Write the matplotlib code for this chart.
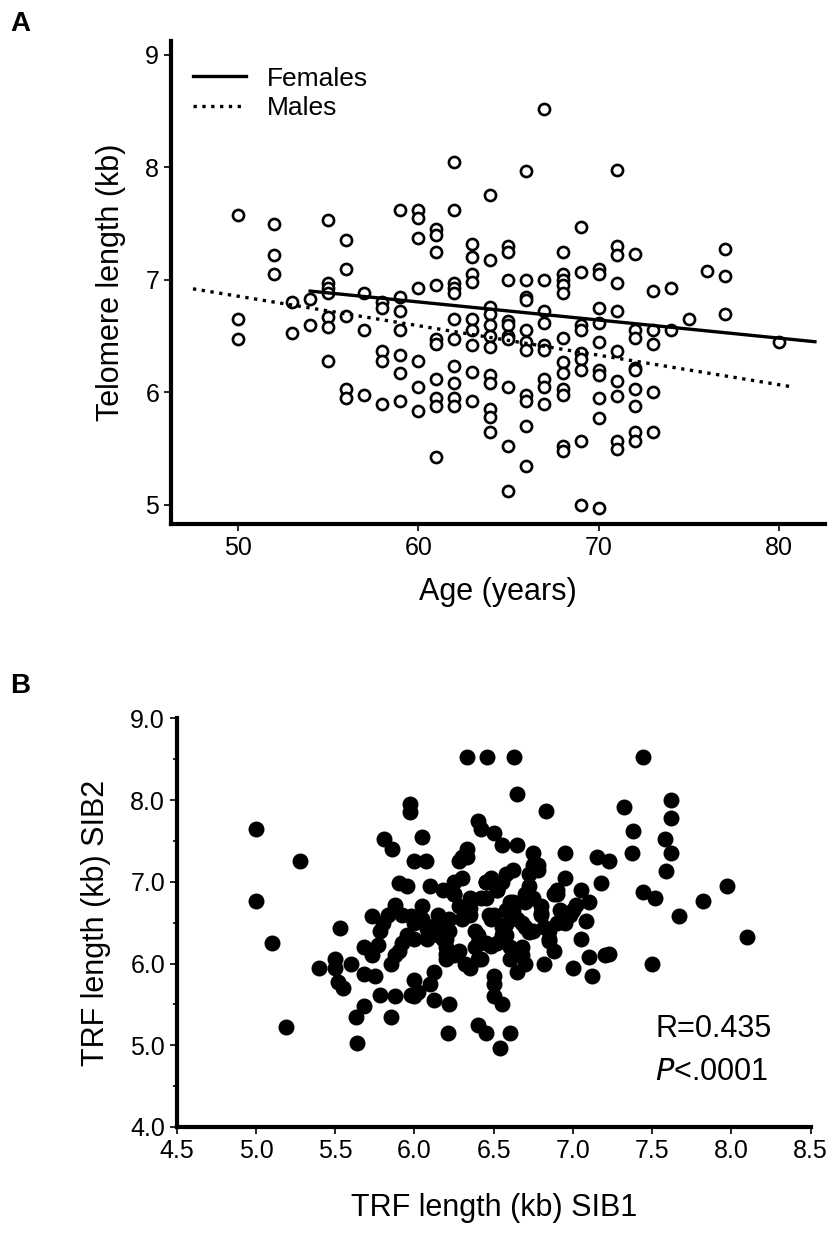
import matplotlib
matplotlib.use("Agg")
import matplotlib.pyplot as plt
from matplotlib.ticker import MultipleLocator

plt.rcParams['font.family'] = ['Liberation Sans Narrow', 'Liberation Sans', 'DejaVu Sans']

# panel A: age vs telomere length, values grouped by age
ageGroups = {
    50: [7.58, 6.65, 6.47],
    52: [7.5, 7.22, 7.05],
    53: [6.8, 6.53],
    54: [6.83, 6.6],
    55: [7.53, 6.97, 6.93, 6.88, 6.67, 6.58, 6.28],
    56: [7.35, 7.1, 6.68, 6.03, 5.95],
    57: [6.88, 6.55, 5.98],
    58: [6.8, 6.75, 6.37, 6.28, 5.9],
    59: [7.62, 6.85, 6.72, 6.55, 6.33, 6.17, 5.92],
    60: [7.62, 7.55, 7.37, 6.93, 6.28, 6.05, 5.83],
    61: [7.45, 7.4, 7.25, 6.95, 6.47, 6.43, 6.12, 5.95, 5.88, 5.43],
    62: [8.05, 7.62, 6.97, 6.93, 6.88, 6.65, 6.47, 6.23, 6.08, 5.95, 5.88],
    63: [7.32, 7.2, 7.05, 6.98, 6.65, 6.55, 6.42, 6.18, 5.92],
    64: [7.75, 7.18, 6.76, 6.7, 6.6, 6.5, 6.4, 6.15, 6.08, 5.85, 5.78, 5.65],
    65: [7.3, 7.25, 7.0, 6.63, 6.6, 6.5, 6.47, 6.05, 5.52, 5.12],
    66: [7.97, 7.0, 6.85, 6.82, 6.55, 6.45, 6.38, 5.98, 5.92, 5.7, 5.35],
    67: [8.52, 7.0, 6.72, 6.62, 6.42, 6.38, 6.12, 6.05, 5.9],
    68: [7.25, 7.05, 7.0, 6.95, 6.88, 6.48, 6.27, 6.17, 6.03, 5.98, 5.52, 5.48],
    69: [7.47, 7.07, 6.6, 6.55, 6.35, 6.3, 6.2, 5.57, 5.0],
    70: [7.1, 7.05, 6.75, 6.62, 6.45, 6.2, 6.15, 5.95, 5.77, 4.97],
    71: [7.98, 7.3, 7.22, 6.97, 6.72, 6.37, 6.1, 5.97, 5.57, 5.5],
    72: [7.23, 6.55, 6.48, 6.22, 6.2, 6.03, 5.88, 5.65, 5.57],
    73: [6.9, 6.55, 6.43, 6.0, 5.65],
    74: [6.93, 6.55],
    75: [6.65],
    76: [7.08],
    77: [7.27, 7.03, 6.7],
    80: [6.45],
}
femaleLine_x = [54, 82]
femaleLine_y = [6.9, 6.45]
maleLine_x = [47.5, 80.7]
maleLine_y = [6.92, 6.05]

# panel B: sibling pairs
sib1 = [5.0, 5.0, 5.1, 5.19, 5.28, 5.4, 5.53, 5.5, 5.52, 5.55, 5.5, 5.63, 5.64, 5.68, 5.68,
        5.73, 5.73, 5.77, 5.75, 5.78, 5.81, 5.83, 5.85, 5.86, 5.9, 5.88, 5.92, 5.97, 5.97, 5.98,
        6.0, 6.05, 6.07, 6.33, 6.46, 6.63, 7.44, 6.65, 6.83, 7.32, 7.62, 7.62, 7.38, 7.58, 7.62,
        7.59, 7.37, 7.52, 7.44, 7.82, 7.67, 7.97, 8.1, 7.23, 7.1, 7.5, 7.23, 6.33, 6.25,
        5.6, 5.68, 5.8, 5.88, 5.95, 6.0, 6.05, 6.1, 6.12, 6.15, 6.2, 6.22, 6.25, 6.28, 6.3,
        6.32, 6.35, 6.38, 6.4, 6.42, 6.45, 6.45, 6.48, 6.5, 6.52, 6.55, 6.58, 6.6, 6.62, 6.65,
        6.68, 6.7, 6.72, 6.75, 6.78, 6.8, 6.85, 6.88, 6.9, 6.95, 7.0, 7.05, 7.1, 7.15, 7.2,
        5.78, 5.85, 5.92, 6.0, 6.08, 6.15, 6.2, 6.28, 6.35, 6.4, 6.45, 6.5, 6.55, 6.6, 6.65,
        6.7, 6.75, 6.82, 6.9, 6.98, 7.05, 7.12, 5.9, 6.0, 6.1, 6.18, 6.25, 6.32, 6.4, 6.48,
        6.55, 6.62, 6.7, 6.78, 6.85, 6.92, 7.0, 5.95, 6.05, 6.12, 6.2, 6.28, 6.35, 6.42, 6.5,
        6.58, 6.65, 6.72, 6.8, 6.88, 6.95, 6.02, 6.1, 6.18, 6.25, 6.33, 6.4, 6.47, 6.55, 6.6,
        6.68, 6.75, 6.82, 6.9, 6.15, 6.3, 6.45, 6.52, 6.6, 6.68, 6.75, 6.22, 6.38, 6.5, 6.58,
        6.21, 6.45, 6.54, 6.4, 6.52, 6.0, 5.88, 6.1, 6.22, 6.3, 6.5, 6.62, 6.7, 6.8, 6.95,
        5.98, 6.08, 6.2, 6.35, 6.48, 6.58, 6.72, 6.85, 7.02, 7.08, 7.18, 6.42, 6.55]
sib2 = [7.65, 6.77, 6.25, 5.22, 7.25, 5.95, 6.43, 6.05, 5.78, 5.7, 5.95, 5.35, 5.03, 5.48, 5.87,
        6.58, 6.1, 6.23, 5.85, 5.62, 7.52, 6.6, 5.35, 7.4, 6.98, 6.72, 6.25, 7.95, 7.85, 5.62,
        7.25, 7.55, 7.25, 8.53, 8.53, 8.53, 8.53, 8.07, 7.87, 7.92, 8.0, 7.78, 7.62, 7.52, 7.35,
        7.13, 7.35, 6.8, 6.87, 6.77, 6.58, 6.95, 6.33, 7.25, 6.08, 6.0, 6.12, 7.3, 7.0,
        6.0, 6.2, 6.5, 6.1, 6.35, 5.6, 6.7, 6.45, 5.9, 6.6, 6.3, 5.5, 6.85, 6.15, 7.3,
        6.0, 6.6, 6.4, 5.25, 6.8, 6.25, 7.0, 6.55, 5.75, 6.9, 6.35, 7.1, 6.05, 6.65, 7.45,
        6.2, 6.75, 6.95, 6.4, 7.2, 6.6, 6.3, 6.85, 6.5, 7.05, 6.65, 6.9, 6.75, 7.3, 6.1,
        6.4, 6.0, 6.6, 5.8, 6.3, 6.5, 6.05, 6.7, 5.95, 6.35, 6.8, 5.6, 7.0, 6.2, 6.55,
        6.0, 7.35, 6.45, 6.85, 6.6, 6.3, 5.85, 6.15, 6.5, 5.75, 6.9, 6.1, 6.65, 6.25, 7.05,
        5.5, 6.75, 6.45, 7.15, 6.4, 6.65, 5.95, 6.95, 6.55, 5.55, 6.2, 7.25, 6.8, 6.05, 6.6,
        6.35, 5.9, 7.1, 6.7, 6.15, 6.5, 5.65, 6.95, 6.3, 6.85, 7.4, 6.05, 6.6, 6.45, 6.75,
        6.1, 7.2, 6.0, 6.9, 6.35, 6.55, 7.0, 6.25, 5.15, 6.5, 6.8, 6.4, 6.2, 7.6, 6.65,
        5.15, 5.15, 4.97, 7.75, 6.9, 6.3, 5.6, 6.45, 6.55, 7.05, 5.85, 7.15, 6.85, 6.62, 7.35,
        6.58, 6.42, 6.12, 6.68, 6.22, 6.48, 6.38, 6.28, 6.72, 6.52, 6.98, 7.65, 7.45]

fig = plt.figure(figsize=(8.34, 12.38), dpi=100)

# ---- panel A
axA = fig.add_axes([0.205, 0.5767, 0.784, 0.390])
for age, vals in ageGroups.items():
    axA.plot([age] * len(vals), vals, 'o', ms=8, mfc='white', mec='black', mew=1.9)
axA.plot(femaleLine_x, femaleLine_y, '-', color='black', lw=2.4, label='Females')
axA.plot(maleLine_x, maleLine_y, ':', color='black', lw=2.4, label='Males')
axA.set_xlim(46.28, 82.55)
axA.set_ylim(4.83, 9.12)
axA.set_xticks([50, 60, 70, 80])
axA.set_yticks([5, 6, 7, 8, 9])
axA.set_xlabel('Age (years)', fontsize=22, labelpad=12)
axA.set_ylabel('Telomere length (kb)', fontsize=22, labelpad=14)
axA.legend(loc='upper left', frameon=False, fontsize=19, handlelength=2.0,
           borderaxespad=0.2, labelspacing=0.2, bbox_to_anchor=(0.01, 0.98))

# ---- panel B
axB = fig.add_axes([0.212, 0.0897, 0.760, 0.330])
axB.scatter(sib1, sib2, s=110, color='black', zorder=3)
axB.set_xlim(4.5, 8.5)
axB.set_ylim(4.0, 9.0)
axB.set_xticks([4.5, 5.0, 5.5, 6.0, 6.5, 7.0, 7.5, 8.0, 8.5])
axB.set_yticks([4.0, 5.0, 6.0, 7.0, 8.0, 9.0])
axB.xaxis.set_major_formatter(plt.FormatStrFormatter('%.1f'))
axB.yaxis.set_major_formatter(plt.FormatStrFormatter('%.1f'))
axB.yaxis.set_minor_locator(MultipleLocator(0.5))
axB.set_xlabel('TRF length (kb) SIB1', fontsize=22, labelpad=22)
axB.set_ylabel('TRF length (kb) SIB2', fontsize=22, labelpad=14)
axB.text(0.755, 0.22, 'R=0.435', transform=axB.transAxes, fontsize=22)
axB.text(0.755, 0.115, r'$\it{P}$<.0001', transform=axB.transAxes, fontsize=22)

for ax in (axA, axB):
    ax.spines['top'].set_visible(False)
    ax.spines['right'].set_visible(False)
    ax.spines['left'].set_linewidth(3)
    ax.spines['bottom'].set_linewidth(3)
    ax.tick_params(labelsize=18, width=1.2, length=5, direction='out')
    ax.tick_params(which='minor', width=1.2, length=3)

fig.text(0.012, 0.975, 'A', fontsize=20, fontweight='bold')
fig.text(0.012, 0.44, 'B', fontsize=20, fontweight='bold')

fig.savefig('out.png', dpi=100)
